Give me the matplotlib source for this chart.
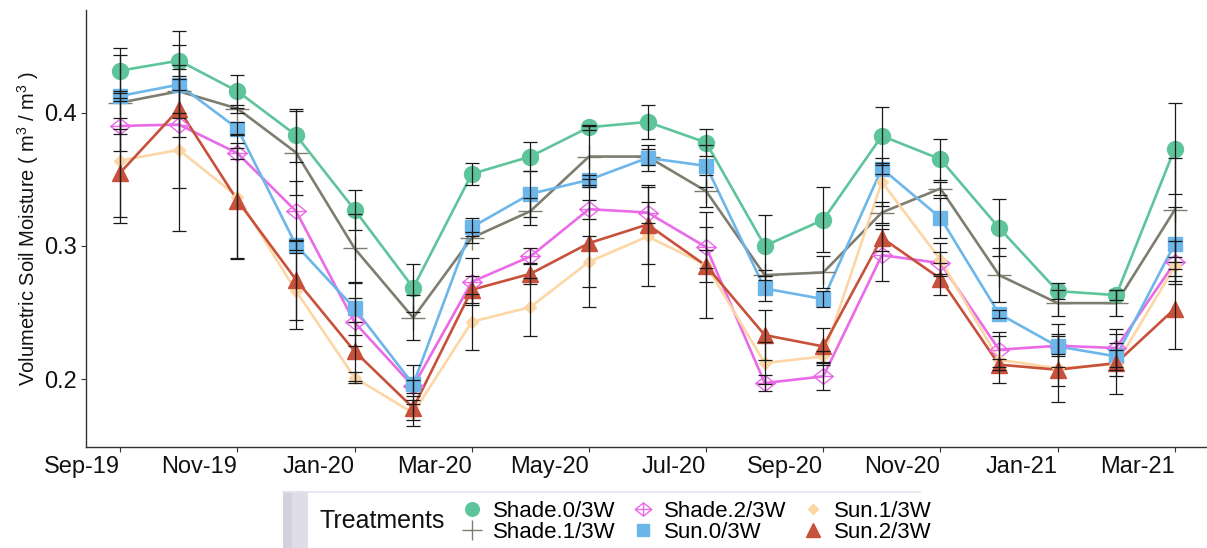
import numpy as np
import matplotlib
matplotlib.use("Agg")
import matplotlib.pyplot as plt
from matplotlib.path import Path
from matplotlib.lines import Line2D
from matplotlib.patches import Rectangle

plt.rcParams['font.family'] = ['Liberation Sans', 'DejaVu Sans']
plt.rcParams['mathtext.fontset'] = 'custom'
plt.rcParams['mathtext.rm'] = 'Liberation Sans'
plt.rcParams['mathtext.it'] = 'Liberation Sans:italic'

# ---- data: monthly mean volumetric soil moisture and standard error ----
months = ['Sep-19', 'Oct-19', 'Nov-19', 'Dec-19', 'Jan-20', 'Feb-20', 'Mar-20',
          'Apr-20', 'May-20', 'Jun-20', 'Jul-20', 'Aug-20', 'Sep-20', 'Oct-20',
          'Nov-20', 'Dec-20', 'Jan-21', 'Feb-21', 'Mar-21']
tick_labels = months[::2]

treatments = ['Shade.0/3W', 'Shade.1/3W', 'Shade.2/3W', 'Sun.0/3W', 'Sun.1/3W', 'Sun.2/3W']

shade0 = [0.4315, 0.439, 0.416, 0.383, 0.327, 0.2685, 0.354, 0.367, 0.389, 0.393,
          0.3775, 0.300, 0.3195, 0.3825, 0.365, 0.3135, 0.266, 0.263, 0.373]
shade0_se = [0.017, 0.0115, 0.0125, 0.020, 0.015, 0.018, 0.008, 0.011, 0.002, 0.0125,
             0.010, 0.023, 0.0245, 0.022, 0.0155, 0.0215, 0.006, 0.004, 0.034]

shade1 = [0.4075, 0.416, 0.403, 0.370, 0.298, 0.246, 0.306, 0.326, 0.367, 0.367,
          0.341, 0.278, 0.280, 0.325, 0.343, 0.278, 0.257, 0.257, 0.327]
shade1_se = [0.036, 0.020, 0.003, 0.0315, 0.026, 0.017, 0.004, 0.010, 0.023, 0.006,
             0.012, 0.004, 0.012, 0.008, 0.005, 0.020, 0.010, 0.010, 0.039]

shade2 = [0.390, 0.391, 0.3695, 0.326, 0.2425, 0.1945, 0.273, 0.292, 0.3275, 0.325,
          0.299, 0.197, 0.202, 0.293, 0.287, 0.222, 0.225, 0.2233, 0.2875]
shade2_se = [0.006, 0.009, 0.004, 0.0225, 0.018, 0.005, 0.0175, 0.006, 0.007, 0.008,
             0.0155, 0.006, 0.010, 0.0195, 0.008, 0.013, 0.016, 0.014, 0.016]

sun0 = [0.4125, 0.421, 0.388, 0.3005, 0.253, 0.196, 0.314, 0.339, 0.3495, 0.366,
        0.360, 0.268, 0.260, 0.358, 0.321, 0.249, 0.2245, 0.217, 0.3015]
sun0_se = [0.004, 0.004, 0.005, 0.004, 0.020, 0.0145, 0.007, 0.0175, 0.004, 0.010,
           0.016, 0.0095, 0.006, 0.004, 0.015, 0.003, 0.0075, 0.010, 0.028]

sun1 = [0.364, 0.372, 0.337, 0.266, 0.201, 0.1745, 0.243, 0.254, 0.288, 0.307,
        0.2857, 0.212, 0.217, 0.348, 0.2895, 0.2145, 0.208, 0.211, 0.2845]
sun1_se = [0.047, 0.061, 0.047, 0.0285, 0.004, 0.0095, 0.021, 0.022, 0.019, 0.037,
           0.040, 0.016, 0.004, 0.018, 0.0125, 0.0175, 0.0255, 0.0225, 0.007]

sun2 = [0.355, 0.4025, 0.334, 0.2745, 0.2208, 0.1783, 0.267, 0.279, 0.302, 0.316,
        0.285, 0.233, 0.2245, 0.306, 0.2753, 0.2108, 0.207, 0.212, 0.2528]
sun2_se = [0.033, 0.059, 0.043, 0.030, 0.022, 0.009, 0.010, 0.008, 0.048, 0.030,
           0.012, 0.019, 0.014, 0.010, 0.012, 0.004, 0.012, 0.010, 0.030]

means = [shade0, shade1, shade2, sun0, sun1, sun2]
errors = [shade0_se, shade1_se, shade2_se, sun0_se, sun1_se, sun2_se]

# ---- styling ----
colors = ['#5dc49b', '#7e7d6f', '#ea6be8', '#6db6ea', '#fdd6a6', '#c7513a']

diamond_plus = Path(
    [(-1, 0), (0, 0.8), (1, 0), (0, -0.8), (-1, 0),
     (-1, 0), (1, 0), (0, -0.8), (0, 0.8)],
    [Path.MOVETO, Path.LINETO, Path.LINETO, Path.LINETO, Path.CLOSEPOLY,
     Path.MOVETO, Path.LINETO, Path.MOVETO, Path.LINETO])

marker_styles = [
    dict(marker='o', markersize=11.5, markerfacecolor=colors[0], markeredgecolor=colors[0]),
    dict(marker='+', markersize=17, markeredgewidth=1.0, markeredgecolor=colors[1]),
    dict(marker=diamond_plus, markersize=14, markerfacecolor='none',
         markeredgecolor=colors[2], markeredgewidth=1.0),
    dict(marker='s', markersize=10.5, markerfacecolor=colors[3], markeredgecolor=colors[3]),
    dict(marker='D', markersize=6.5, markerfacecolor=colors[4], markeredgecolor=colors[4]),
    dict(marker='^', markersize=12, markerfacecolor=colors[5], markeredgecolor=colors[5]),
]

W, H = 1207, 548
fig = plt.figure(figsize=(W / 100, H / 100), dpi=100)
ax = fig.add_axes([86 / W, 1 - 447 / H, 1 - 86 / W, (447 - 10) / H])

x = np.arange(len(months))

for i, m in enumerate(means):
    ax.plot(x, m, color=colors[i], lw=1.9, zorder=2 + i * 0.01, solid_joinstyle='round')
for i, m in enumerate(means):
    ax.plot(x, m, linestyle='none', zorder=3 + i * 0.01, **marker_styles[i])
for m, e in zip(means, errors):
    ax.errorbar(x, m, yerr=e, fmt='none', ecolor='#1a1a1a', elinewidth=0.9,
                capsize=5.2, capthick=0.9, zorder=4)

ax.set_xlim(-0.586, 18.55)
ax.set_ylim(0.149, 0.477)
ax.set_xticks(x[::2])
ax.set_xticklabels(tick_labels)
for lab in ax.get_xticklabels():
    lab.set_horizontalalignment('right')
ax.set_yticks([0.2, 0.3, 0.4])
ax.set_yticklabels(['0.2', '0.3', '0.4'])
ax.tick_params(axis='both', labelsize=17, length=3.5, width=0.8, color='#333333',
               labelcolor='#111111', pad=3)
for side in ['top', 'right']:
    ax.spines[side].set_visible(False)
for side in ['left', 'bottom']:
    ax.spines[side].set_color('#333333')
    ax.spines[side].set_linewidth(1.0)

ax.set_ylabel(r'Volumetric Soil Moisture ( m$^{3}$ / m$^{3}$ )', fontsize=14.5,
              color='#111111')
ax.yaxis.label.set_verticalalignment('center')
ax.yaxis.set_label_coords((28 - 86) / (W - 86), 0.5)

# ---- legend ----
fig.patches.append(Rectangle((283 / W, 0), 25 / W, 1 - 491 / H, transform=fig.transFigure,
                             facecolor='#dedde8', edgecolor='none', zorder=0))
fig.patches.append(Rectangle((283 / W, 0), 9 / W, 1 - 491 / H, transform=fig.transFigure,
                             facecolor='#d2d1de', edgecolor='none', zorder=0))
fig.lines.append(Line2D([283 / W, 920 / W], [1 - 491.5 / H, 1 - 491.5 / H],
                        transform=fig.transFigure, color='#e3e3ee', lw=1.2))

handles = [Line2D([], [], linestyle='none', **marker_styles[i])
           for i in range(len(treatments))]

leg = fig.legend(handles, treatments, ncol=3, loc='center left',
                 bbox_to_anchor=(461 / W, 1 - 522 / H), frameon=False,
                 fontsize=16, handlelength=1.0, handletextpad=0.45,
                 columnspacing=0.7, labelspacing=0.0, borderpad=0,
                 borderaxespad=0, markerscale=0.85)

fig.text(319 / W, 1 - 521 / H, 'Treatments', fontsize=18, ha='left', va='center',
         color='#111111')

fig.savefig('out.png', dpi=100)
